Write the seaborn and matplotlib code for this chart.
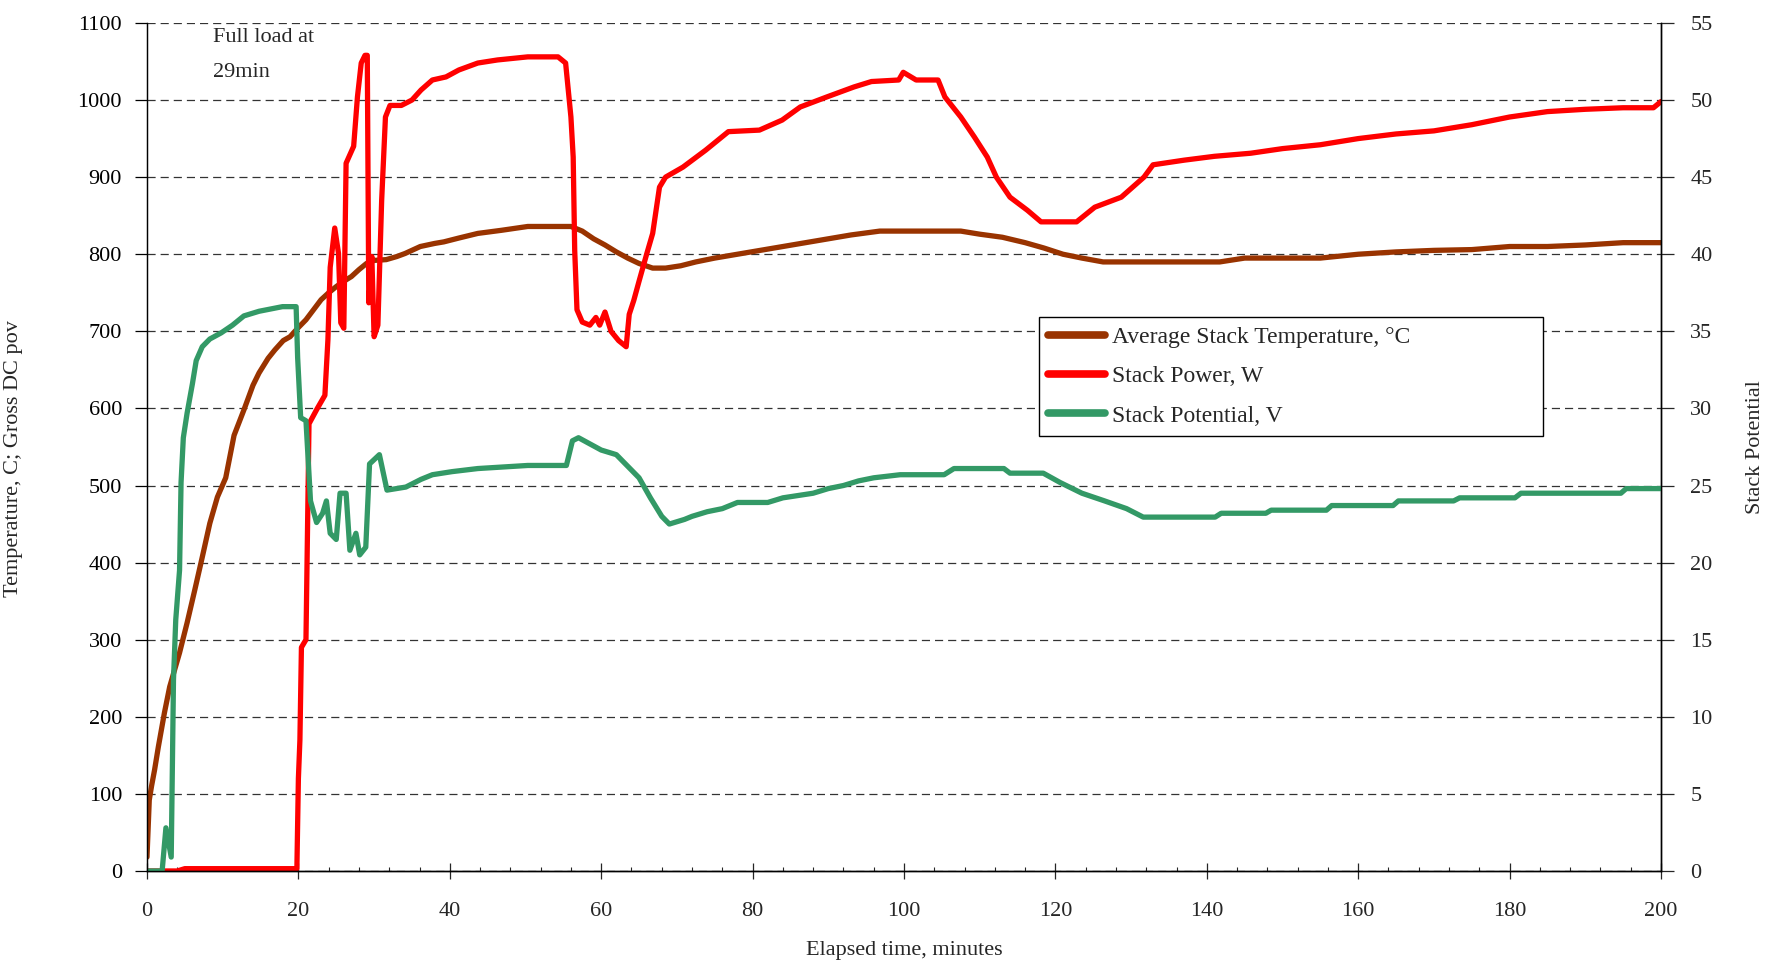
import matplotlib
matplotlib.use("Agg")
import matplotlib.pyplot as plt
from matplotlib.lines import Line2D
import seaborn as sns
import pandas as pd

# ---------------- data ----------------
temp_time = [0, 0.3, 0.6, 1.0, 1.5, 2.3, 3.0, 4.3, 5.3, 6.3, 7.3, 8.3, 9.3, 10.4, 11.5,
             12.8, 14.0, 14.8, 16.0, 16.9, 18.0, 18.9, 20.0, 21.0, 22.0, 23.0, 24.0, 25.0,
             26.0, 27.0, 28.0, 29.0, 30.0, 31.6, 33.0, 34.1, 36.1, 38.0, 39.2, 41.2, 43.7,
             46.8, 50.3, 53.0, 56.0, 57.5, 59.0, 60.5, 62.0, 63.5, 65.0, 66.8, 68.5, 70.5,
             72.5, 75.0, 78.0, 81.0, 84.0, 87.0, 90.0, 93.0, 96.8, 100, 104, 107.5, 110,
             113, 116, 118.5, 121, 123.5, 126.3, 130, 135, 141.7, 145, 150, 155, 160, 165,
             170, 175, 180, 185, 190, 195, 200]
temp_value = [18, 92, 110, 131, 161, 205, 239, 283, 322, 364, 407, 451, 485, 510, 565,
              598, 630, 646, 665, 676, 688, 693, 705, 715, 728, 741, 750, 758,
              765, 771, 780, 788, 792, 793, 797, 801, 810, 814, 816, 821, 827,
              831, 836, 836, 836, 830, 820, 812, 803, 795, 788, 782, 782, 785,
              790, 795, 800, 805, 810, 815, 820, 825, 830, 830, 830, 830, 826,
              822, 815, 808, 800, 795, 790, 790, 790, 790, 795, 795, 795, 800, 803,
              805, 806, 810, 810, 812, 815, 815]

power_time = [0, 4, 5, 19.8, 20.0, 20.2, 20.4, 21.0, 21.4, 22.5, 23.5, 23.9, 24.2, 24.8,
              25.3, 25.6, 26.0, 26.3, 27.3, 27.8, 28.3, 28.8, 29.1, 29.3, 29.7, 30.0,
              30.5, 31.0, 31.5, 32.1, 33.6, 35.0, 36.2, 37.7, 39.5, 41.2, 43.7, 46.3,
              50.3, 54.3, 55.3, 56.0, 56.3, 56.5, 56.8, 57.5, 58.5, 59.3, 59.8, 60.5,
              61.3, 62.3, 63.3, 63.7, 64.3, 65.0, 66.0, 66.8, 67.7, 68.5, 70.8, 73.8,
              76.8, 80.9, 83.9, 86.3, 89.8, 93.4, 95.7, 99.3, 99.9, 101.6, 104.5, 105.4,
              107.5, 109.3, 111.0, 112.2, 114.0, 116.3, 118.1, 122.8, 125.2, 128.7,
              131.7, 132.9, 137.0, 141, 145.8, 150, 155, 160, 165, 170, 175, 180, 185,
              190, 195, 199, 200]
power_value = [0, 0, 3, 3, 120, 170, 290, 300, 580, 600, 617, 689, 783, 834,
               801, 711, 704, 918, 940, 1004, 1048, 1058, 1058, 737, 797, 693,
               708, 870, 978, 993, 993, 1000, 1013, 1026, 1030, 1039, 1048, 1052,
               1056, 1056, 1048, 978, 926, 805, 728, 712, 708, 718, 708, 725,
               700, 688, 680, 722, 740, 765, 800, 827, 887, 900, 913, 935,
               959, 961, 974, 991, 1004, 1017, 1024, 1026, 1036, 1026, 1026, 1004,
               978, 952, 926, 900, 874, 857, 842, 842, 861, 874,
               900, 916, 922, 927, 931, 937, 942, 950, 956, 960, 968, 978, 985,
               988, 990, 990, 998]

volt_time = [0, 2.0, 2.5, 3.2, 3.5, 3.8, 4.3, 4.5, 4.8, 5.3, 6.0, 6.5, 7.3, 8.3, 9.8,
             11.3, 12.8, 14.8, 17.9, 19.7, 19.9, 20.3, 21.0, 21.6, 22.4, 23.2, 23.7,
             24.2, 25.0, 25.5, 26.3, 26.8, 27.6, 28.1, 28.9, 29.4, 30.7, 31.7, 34.2,
             36.2, 37.7, 40.3, 43.7, 50.3, 55.4, 56.2, 57.0, 58.5, 60, 62, 63, 65, 66.5,
             68, 69, 71, 72, 74, 76, 78, 82, 84, 88, 90, 92, 94, 96, 99.5, 105.3, 106.6,
             113.2, 114, 118.4, 120.6, 123.5, 126.5, 129.4, 131.6, 141.1, 141.9, 147.8,
             148.5, 155.8, 156.5, 164.6, 165.3, 172.6, 173.4, 180.7, 181.5, 194.7,
             195.4, 200]
volt_value = [0, 0, 2.8, 0.9, 12.4, 16.3, 19.5, 25.2, 28.1, 29.7, 31.6, 33.1, 34.0, 34.5,
              34.9, 35.4, 36.0, 36.3, 36.6, 36.6, 33.3, 29.4, 29.2, 24.0, 22.6, 23.2, 24.0,
              21.9, 21.5, 24.5, 24.5, 20.8, 21.9, 20.5, 21.0, 26.4, 27.0, 24.7, 24.9,
              25.4, 25.7, 25.9, 26.1, 26.3, 26.3, 27.9, 28.1, 27.7, 27.3, 27.0, 26.5,
              25.5, 24.2, 23.0, 22.5, 22.8, 23.0, 23.3, 23.5, 23.9, 23.9, 24.2, 24.5,
              24.8, 25.0, 25.3, 25.5, 25.7, 25.7, 26.1, 26.1, 25.8, 25.8, 25.2, 24.5,
              24.0, 23.5, 22.95, 22.95, 23.2, 23.2, 23.4, 23.4, 23.7, 23.7, 24.0, 24.0,
              24.2, 24.2, 24.5, 24.5, 24.8, 24.8]

series_labels = ["Average Stack Temperature, °C", "Stack Power, W", "Stack Potential, V"]
series_colors = ["#993300", "#FF0000", "#339966"]

left_ticks = list(range(0, 1101, 100))
right_ticks = list(range(0, 56, 5))
x_ticks = list(range(0, 201, 20))
x_minor = list(range(0, 201, 4))

# ---------------- style ----------------
sns.set_theme(style="white")
plt.rcParams["font.family"] = ["Liberation Serif", "DejaVu Serif"]

fig = plt.figure(figsize=(17.71, 9.64), dpi=100)
ax = fig.add_axes([0.0830, 0.0965, 0.8549, 0.8797])
ax2 = ax.twinx()

lw = 3.8
df_t = pd.DataFrame({"t": temp_time, "v": temp_value})
df_p = pd.DataFrame({"t": power_time, "v": power_value})
df_v = pd.DataFrame({"t": volt_time, "v": volt_value})

sns.lineplot(data=df_t, x="t", y="v", ax=ax, color=series_colors[0], linewidth=lw,
             sort=False, estimator=None, legend=False)
sns.lineplot(data=df_p, x="t", y="v", ax=ax, color=series_colors[1], linewidth=lw,
             sort=False, estimator=None, legend=False)
sns.lineplot(data=df_v, x="t", y="v", ax=ax2, color=series_colors[2], linewidth=lw,
             sort=False, estimator=None, legend=False)

ax.set_xlim(0, 200)
ax.set_ylim(0, 1100)
ax2.set_ylim(0, 55)

ax.set_xticks(x_ticks)
ax.set_xticks(x_minor, minor=True)
ax.set_yticks(left_ticks)
ax2.set_yticks(right_ticks)

ax.yaxis.grid(True, linestyle=(0, (6.5, 4.0)), color="#333333", linewidth=0.9)
ax.xaxis.grid(False)
ax2.grid(False)

for a in (ax, ax2):
    a.spines["top"].set_visible(False)
    for s in ("left", "right", "bottom"):
        a.spines[s].set_color("black")
        a.spines[s].set_linewidth(1.0)
ax.spines["left"].set_color("#555555")
ax.spines["left"].set_linewidth(0.8)

ax.tick_params(axis="y", direction="out", length=9, width=0.9, pad=9,
               labelsize=16, colors="black", left=True)
ax.tick_params(axis="x", which="major", direction="inout", length=12, width=0.9,
               pad=16, labelsize=16, bottom=True)
ax.tick_params(axis="x", which="minor", direction="in", length=3, width=0.8, bottom=True)
ax2.tick_params(axis="y", direction="out", length=9, width=0.9, pad=12,
                labelsize=16, right=True)

ax.set_xlabel("Elapsed time, minutes", fontsize=16)
ax.xaxis.set_label_coords(0.5, -0.083)
ax.set_ylabel("Temperature, C; Gross DC pov", fontsize=16)
ax.yaxis.set_label_coords(-0.082, 0.486)
ax2.set_ylabel("Stack Potential", fontsize=16)
ax2.yaxis.set_label_coords(1.056, 0.50)

ax.text(8.7, 1093, "Full load at\n29min", fontsize=16, ha="left", va="top",
        linespacing=2.15)

handles = [Line2D([0], [0], color=c, linewidth=5.5, solid_capstyle="round")
           for c in series_colors]
leg = ax2.legend(handles, series_labels, loc="upper left",
                 bbox_to_anchor=(0.589, 0.513, 0.333, 0.14), mode="expand",
                 fontsize=17, frameon=True, fancybox=False, framealpha=1.0,
                 handlelength=2.4, handletextpad=0.3, labelspacing=0.75,
                 borderpad=0.4, borderaxespad=0.0)
leg.get_frame().set_edgecolor("black")
leg.get_frame().set_linewidth(1.0)
leg.get_frame().set_facecolor("white")

fig.savefig("out.png", dpi=100)
